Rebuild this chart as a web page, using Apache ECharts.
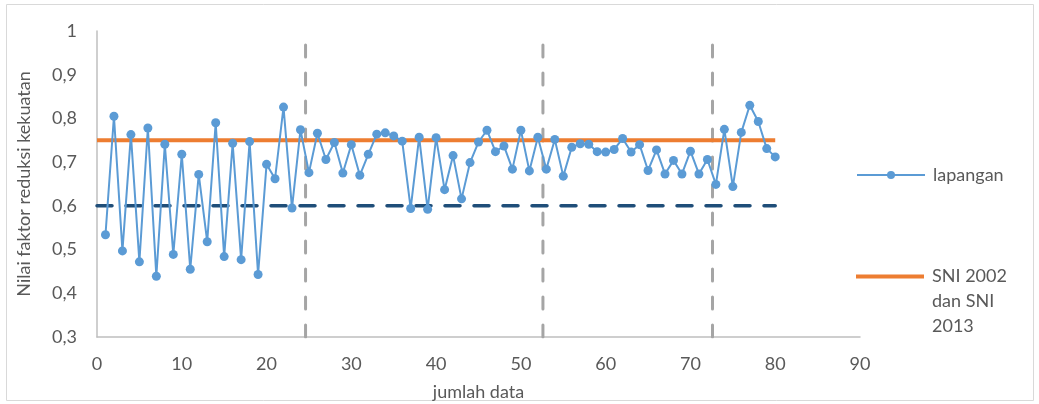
<!DOCTYPE html>
<html><head><meta charset="utf-8">
<script src="https://cdn.jsdelivr.net/npm/echarts@6/dist/echarts.min.js"></script>
<style>html,body{margin:0;padding:0;background:#fff}#c{width:1039px;height:404px}</style>
</head><body><div id="c"></div>
<script>
const lapanganX = [1,2,3,4,5,6,7,8,9,10,11,12,13,14,15,16,17,18,19,20,21,22,23,24,25,26,27,28,29,30,31,32,33,34,35,36,37,38,39,40,41,42,43,44,45,46,47,48,49,50,51,52,53,54,55,56,57,58,59,60,61,62,63,64,65,66,67,68,69,70,71,72,73,74,75,76,77,78,79,80];
const lapanganY = [0.534,0.805,0.497,0.763,0.472,0.778,0.439,0.741,0.489,0.718,0.455,0.672,0.518,0.790,0.484,0.743,0.477,0.747,0.443,0.695,0.662,0.826,0.595,0.774,0.676,0.766,0.706,0.745,0.675,0.740,0.670,0.718,0.764,0.767,0.760,0.748,0.594,0.757,0.592,0.756,0.637,0.715,0.616,0.699,0.746,0.773,0.724,0.737,0.684,0.773,0.680,0.757,0.684,0.752,0.668,0.734,0.742,0.741,0.724,0.723,0.729,0.754,0.723,0.740,0.681,0.728,0.673,0.704,0.673,0.725,0.673,0.706,0.649,0.775,0.644,0.768,0.830,0.793,0.731,0.712];
const sniX = [0, 80];
const sniY = [0.75, 0.75];
const batasY = [0.6, 0.6];
const dividerX = [24.6, 52.6, 72.6];
const dividerY = [0.3, 0.975];
const xTicks = [0,10,20,30,40,50,60,70,80,90];
const yTicks = [0.3,0.4,0.5,0.6,0.7,0.8,0.9,1];

const txt = '#595959';
const font = 'Lato, "Open Sans", sans-serif';
const fs = 18;
const sniName = 'SNI 2002\ndan SNI\n2013';
const series = [
  {name:sniName, type:'line', data: sniX.map((x,i)=>[x, sniY[i]]), symbol:'none',
   lineStyle:{color:'#ED7D31', width:4}, itemStyle:{color:'#ED7D31'}, z:3, silent:true},
  {name:'batas', type:'line', data: sniX.map((x,i)=>[x, batasY[i]]), symbol:'none',
   lineStyle:{color:'#1F4E79', width:3.5, type:[15,14], cap:'round'}, z:2, silent:true},
];
dividerX.forEach((dx,k)=>{
  series.push({name:'div'+k, type:'line', data: dividerY.map(y=>[dx,y]), symbol:'none',
    lineStyle:{color:'#A5A5A5', width:3, type:[12,16], cap:'round'}, z:1, silent:true});
});
series.push({name:'lapangan', type:'line', data: lapanganX.map((x,i)=>[x, lapanganY[i]]),
  symbol:'circle', symbolSize:9, showAllSymbol:true,
  lineStyle:{color:'#5B9BD5', width:2}, itemStyle:{color:'#5B9BD5'}, z:4});

const chart = echarts.init(document.getElementById('c'));
chart.setOption({
  animation:false,
  textStyle:{fontFamily:font},
  graphic:[{type:'rect', shape:{x:6.5,y:4.5,width:1027,height:396}, style:{fill:'none', stroke:'#D9D9D9', lineWidth:1}, silent:true}],
  grid:{left:97, right:179, top:31, bottom:67, containLabel:false, outerBoundsMode:'none'},
  xAxis:{type:'value', min:0, max:90, interval:10,
    axisLine:{lineStyle:{color:'#BFBFBF', width:1.5}}, axisTick:{show:false}, splitLine:{show:false},
    axisLabel:{color:txt, fontSize:fs, fontFamily:font, margin:18, formatter:v=>xTicks.includes(v)?String(v):''},
    name:'jumlah data', nameLocation:'middle', nameGap:46, nameTextStyle:{color:txt, fontSize:fs, fontFamily:font}},
  yAxis:{type:'value', min:0.3, max:1, interval:0.1,
    axisLine:{show:true, lineStyle:{color:'#BFBFBF', width:1.5}}, axisTick:{show:false}, splitLine:{show:false},
    axisLabel:{color:txt, fontSize:fs, fontFamily:font, margin:20,
      formatter:v=>{const r=Math.round(v*10)/10; return r===1?'1':String(r).replace('.',',');}},
    name:'Nilai faktor reduksi kekuatan', nameLocation:'middle', nameGap:64, nameRotate:90,
    nameTextStyle:{color:txt, fontSize:fs, fontFamily:font}},
  legend:[
    {data:['lapangan'], left:851, top:161, orient:'vertical', itemWidth:68, itemHeight:10,
     textStyle:{color:txt, fontSize:fs, fontFamily:font, padding:[0,0,0,3]}},
    {data:[{name:sniName, icon:'path://M0,10.5 H68 V14.5 H0 Z M0,0 h0.01 v0.01 h-0.01 Z M0,75 h0.01 v-0.01 h-0.01 Z'}],
     left:851, top:259, orient:'vertical', itemWidth:68, itemHeight:75,
     textStyle:{color:txt, fontSize:fs, fontFamily:font, lineHeight:25, padding:[0,0,0,3]}}
  ],
  series: series
});
</script></body></html>
